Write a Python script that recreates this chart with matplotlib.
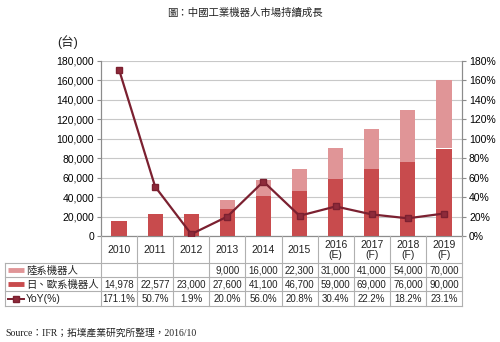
import matplotlib
matplotlib.use("Agg")
import matplotlib.pyplot as plt
from matplotlib.lines import Line2D
from matplotlib.ticker import FuncFormatter, MultipleLocator
import numpy as np

plt.rcParams['font.family'] = ['Liberation Sans', 'Noto Sans CJK TC', 'DejaVu Sans']

# ---- data ----
years = ["2010", "2011", "2012", "2013", "2014", "2015",
         "2016\n(E)", "2017\n(F)", "2018\n(F)", "2019\n(F)"]
domestic = [0, 0, 0, 9000, 16000, 22300, 31000, 41000, 54000, 70000]      # 陸系機器人
foreign = [14978, 22577, 23000, 27600, 41100, 46700, 59000, 69000, 76000, 90000]  # 日、歐系機器人
yoy = [171.1, 50.7, 1.9, 20.0, 56.0, 20.8, 30.4, 22.2, 18.2, 23.1]
series_names = ["陸系機器人", "日、歐系機器人", "YoY(%)"]

C_LIGHT = "#e09597"
C_DARK = "#c84b4d"
C_LINE = "#7b2030"
C_GRID = "#c8c8c8"
C_AXIS = "#8c8c8c"

W, H = 500, 342
fig = plt.figure(figsize=(W / 100, H / 100), dpi=100)
fig.patch.set_facecolor("white")

# plot area in pixel units
px_l, px_r, px_t, px_b = 101, 462, 61, 236
ax = fig.add_axes([px_l / W, 1 - px_b / H, (px_r - px_l) / W, (px_b - px_t) / H])
n = len(years)
x = np.arange(n)

ax.bar(x, foreign, width=0.42, color=C_DARK, zorder=3)
ax.bar(x, domestic, width=0.42, bottom=foreign, color=C_LIGHT, zorder=3)
ax.set_xlim(-0.5, n - 0.5)
ax.set_ylim(0, 180000)
ax.yaxis.set_major_locator(MultipleLocator(20000))
ax.yaxis.set_major_formatter(FuncFormatter(lambda v, p: f"{int(v):,}"))
ax.grid(axis="y", color=C_GRID, lw=0.8, zorder=0)
ax.set_axisbelow(True)
ax.set_xticks([])
ax.tick_params(axis="y", length=3, width=0.8, color=C_AXIS, labelsize=7.5, pad=2)
for s in ["top"]:
    ax.spines[s].set_visible(False)
for s in ["left", "bottom", "right"]:
    ax.spines[s].set_color(C_AXIS)
    ax.spines[s].set_linewidth(0.8)

ax2 = ax.twinx()
ax2.plot(x, yoy, color=C_LINE, lw=1.6, marker="s", ms=5,
         mfc="#8e2a3a", mec=C_LINE, zorder=5)
ax2.set_ylim(0, 180)
ax2.yaxis.set_major_locator(MultipleLocator(20))
ax2.yaxis.set_major_formatter(FuncFormatter(lambda v, p: f"{int(v)}%"))
ax2.tick_params(axis="y", length=3, width=0.8, color=C_AXIS, labelsize=7.5, pad=2)
ax2.spines["top"].set_visible(False)
for s in ["left", "bottom", "right"]:
    ax2.spines[s].set_color(C_AXIS)
    ax2.spines[s].set_linewidth(0.8)

# ---- data table drawn below the plot, in pixel coordinates ----
ov = fig.add_axes([0, 0, 1, 1])
ov.set_xlim(0, W)
ov.set_ylim(H, 0)
ov.axis("off")
ov.patch.set_alpha(0)

tbl_l = 5
row_lines = [263, 277, 291, 306]
col_w = (px_r - px_l) / n
lc = "#b0b0b0"

# grid of the table
for yy in row_lines:
    ov.add_line(Line2D([tbl_l, px_r], [yy, yy], color=lc, lw=0.8))
ov.add_line(Line2D([tbl_l, tbl_l], [row_lines[0], row_lines[-1]], color=lc, lw=0.8))
for k in range(n + 1):
    xx = px_l + k * col_w
    ov.add_line(Line2D([xx, xx], [px_b, row_lines[-1]], color=lc, lw=0.8))

# header row with years
for i, lab in enumerate(years):
    cx = px_l + (i + 0.5) * col_w
    ov.text(cx, (px_b + row_lines[0]) / 2 + 0.5, lab, ha="center", va="center",
            fontsize=7.5, linespacing=1.0, color="#222222")

# row labels with legend keys
row_cy = [(row_lines[j] + row_lines[j + 1]) / 2 for j in range(3)]
ov.add_line(Line2D([8, 24], [row_cy[0], row_cy[0]], color=C_LIGHT, lw=3.5, solid_capstyle="butt"))
ov.add_line(Line2D([8, 24], [row_cy[1], row_cy[1]], color=C_DARK, lw=3.5, solid_capstyle="butt"))
ov.add_line(Line2D([8, 24], [row_cy[2], row_cy[2]], color=C_LINE, lw=1.4))
ov.add_line(Line2D([16], [row_cy[2]], color=C_LINE, marker="s", ms=4, mfc="#8e2a3a", mec=C_LINE))
for j, name in enumerate(series_names):
    ov.text(26, row_cy[j] + 0.5, name, ha="left", va="center", fontsize=7.5,
            color="#222222")

# cell values
for i in range(n):
    cx = px_l + (i + 0.5) * col_w
    if domestic[i]:
        ov.text(cx, row_cy[0] + 0.5, f"{domestic[i]:,}", ha="center", va="center",
                fontsize=7, color="#222222")
    ov.text(cx, row_cy[1] + 0.5, f"{foreign[i]:,}", ha="center", va="center",
            fontsize=7, color="#222222")
    ov.text(cx, row_cy[2] + 0.5, f"{yoy[i]:.1f}%", ha="center", va="center",
            fontsize=7, color="#222222")

# titles and notes
ov.text(245, 13, "圖：中國工業機器人市場持續成長", ha="center", va="center",
        fontsize=7.5, color="#222222")
ov.text(68, 42, "(台)", ha="center", va="center", fontsize=9, color="#222222")
ov.text(5, 333, "Source：IFR；拓墣產業研究所整理，2016/10", ha="left", va="center",
        fontsize=7, color="#222222",
        family=['Liberation Serif', 'Noto Sans CJK TC', 'DejaVu Sans'])

fig.savefig("out.png", dpi=100)
